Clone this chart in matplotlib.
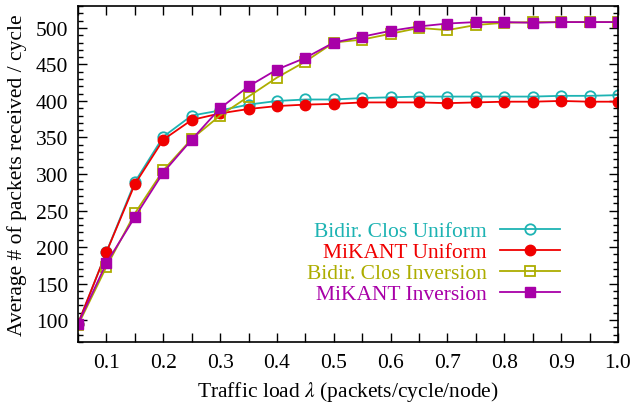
import numpy as np
import matplotlib
matplotlib.use('Agg')
import matplotlib.pyplot as plt
from matplotlib.ticker import MultipleLocator, FixedLocator

plt.rcParams['font.family'] = ['Liberation Serif', 'DejaVu Serif']
plt.rcParams['mathtext.fontset'] = 'stix'

# traffic load values
loads = [0.05, 0.1, 0.15, 0.2, 0.25, 0.3, 0.35, 0.4, 0.45, 0.5,
         0.55, 0.6, 0.65, 0.7, 0.75, 0.8, 0.85, 0.9, 0.95, 1.0]

clos_uniform = [95, 193, 289, 351, 380, 387, 395, 400, 402, 402,
                404, 405, 406, 406, 406, 406, 406, 407, 407, 408]
mikant_uniform = [95, 193, 286, 347, 374, 383, 389, 393, 395, 396,
                  398, 398, 398, 397, 398, 399, 399, 400, 399, 399]
clos_inversion = [93, 173, 246, 305, 348, 380, 406, 432, 454, 480,
                  484, 492, 500, 497, 504, 507, 508, 508, 508, 508]
mikant_inversion = [95, 178, 241, 302, 347, 390, 420, 443, 459, 480,
                    488, 496, 502, 506, 508, 508, 507, 508, 508, 508]

series_names = ['Bidir. Clos Uniform', 'MiKANT Uniform',
                'Bidir. Clos Inversion', 'MiKANT Inversion']
colors = ['#1db3b3', '#f00000', '#adad00', '#a800a8']

FS = 15.5

fig = plt.figure(figsize=(6.31, 4.06), dpi=100)
ax = fig.add_axes([78 / 631, 1 - 343 / 406, (618 - 78) / 631, (343 - 7) / 406])

ax.plot(loads, clos_uniform, color=colors[0], lw=1.3, marker='o', ms=7.5,
        mfc='none', mew=1.3, label=series_names[0])
ax.plot(loads, mikant_uniform, color=colors[1], lw=1.3, marker='o', ms=7.5,
        mew=1.0, label=series_names[1])
ax.plot(loads, clos_inversion, color=colors[2], lw=1.3, marker='s', ms=7.5,
        mfc='none', mew=1.3, label=series_names[2])
ax.plot(loads, mikant_inversion, color=colors[3], lw=1.3, marker='s', ms=7.5,
        mew=1.0, label=series_names[3])

ax.set_xlim(0.05, 1.0)
ax.set_ylim(70, 530)

xt = np.round(np.arange(0.05, 1.001, 0.05), 2)
ax.xaxis.set_major_locator(FixedLocator(xt))
ax.set_xticklabels(['%.1f' % v if round(v * 100) % 10 == 0 else '' for v in xt])
ax.yaxis.set_minor_locator(MultipleLocator(10))
ax.set_yticks([100, 150, 200, 250, 300, 350, 400, 450, 500])

ax.tick_params(which='both', direction='in', top=True, right=True,
               labelsize=FS, width=1.0)
ax.tick_params(which='major', length=6.5, pad=7)
ax.tick_params(which='minor', length=3.5)
ax.tick_params(axis='x', which='major', pad=8)
for sp in ax.spines.values():
    sp.set_linewidth(1.2)

ax.set_xlabel(r'Traffic load $\lambda$ (packets/cycle/node)', fontsize=FS, labelpad=5)
ax.set_ylabel('Average # of packets received / cycle', fontsize=FS, labelpad=6)

leg = ax.legend(loc='lower right', bbox_to_anchor=(0.909, 0.086), frameon=False,
                fontsize=FS, markerfirst=False, handlelength=2.8,
                handletextpad=0.6, labelspacing=0.05, borderaxespad=0.0)
for txt, c in zip(leg.get_texts(), colors):
    txt.set_color(c)
leg._legend_box.align = 'right'
for vp in leg._legend_handle_box.get_children():
    vp.align = 'right'

fig.savefig('out.png', dpi=100)
